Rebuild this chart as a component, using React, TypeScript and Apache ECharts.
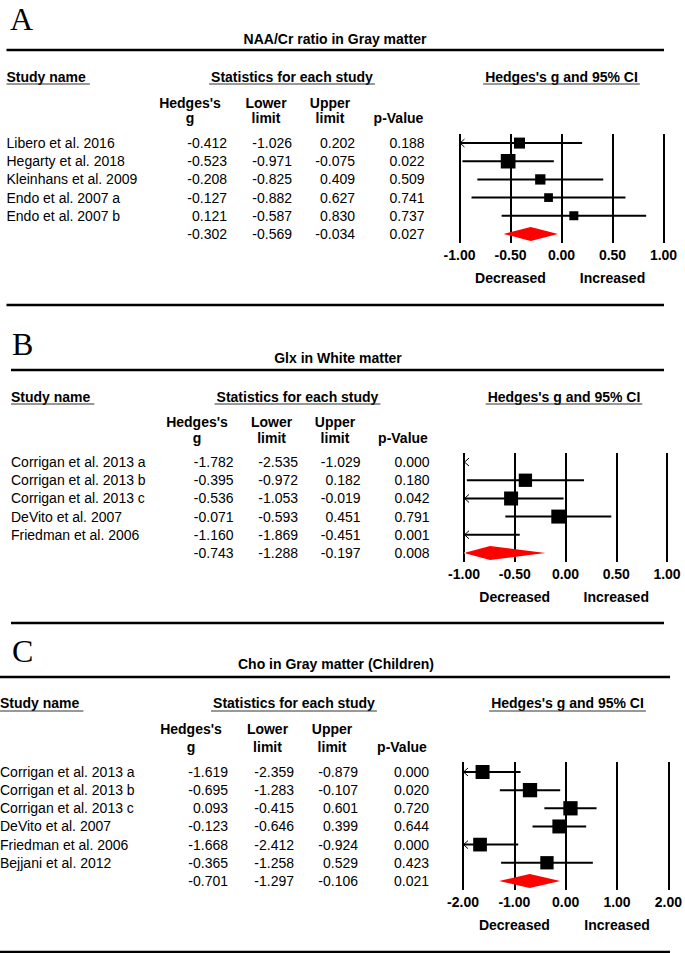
import React, { useEffect, useRef } from "react";
import * as echarts from "echarts";

// ---------- Panel A ----------
const studiesA = ["Libero et al. 2016", "Hegarty et al. 2018", "Kleinhans et al. 2009", "Endo et al. 2007 a", "Endo et al. 2007 b"];
const hedgesA = [-0.412, -0.523, -0.208, -0.127, 0.121];
const lowerA = [-1.026, -0.971, -0.825, -0.882, -0.587];
const upperA = [0.202, -0.075, 0.409, 0.627, 0.83];
const pValueA = [0.188, 0.022, 0.509, 0.741, 0.737];
const weightA = [20.2, 36.0, 17.7, 12.7, 13.5];
const summaryA = [-0.302, -0.569, -0.034, 0.027];
const ticksA = [-1, -0.5, 0, 0.5, 1];

// ---------- Panel B ----------
const studiesB = ["Corrigan et al. 2013 a", "Corrigan et al. 2013 b", "Corrigan et al. 2013 c", "DeVito et al. 2007", "Friedman et al. 2006"];
const hedgesB = [-1.782, -0.395, -0.536, -0.071, -1.16];
const lowerB = [-2.535, -0.972, -1.053, -0.593, -1.869];
const upperB = [-1.029, 0.182, -0.019, 0.451, -0.451];
const pValueB = [0.0, 0.18, 0.042, 0.791, 0.001];
const weightB = [18.0, 29.5, 32.6, 32.6, 20.0];
const summaryB = [-0.743, -1.288, -0.197, 0.008];
const ticksB = [-1, -0.5, 0, 0.5, 1];

// ---------- Panel C ----------
const studiesC = ["Corrigan et al. 2013 a", "Corrigan et al. 2013 b", "Corrigan et al. 2013 c", "DeVito et al. 2007", "Friedman et al. 2006", "Bejjani et al. 2012"];
const hedgesC = [-1.619, -0.695, 0.093, -0.123, -1.668, -0.365];
const lowerC = [-2.359, -1.283, -0.415, -0.646, -2.412, -1.258];
const upperC = [-0.879, -0.107, 0.601, 0.399, -0.924, 0.529];
const pValueC = [0.0, 0.02, 0.72, 0.644, 0.0, 0.423];
const weightC = [32.6, 34.0, 34.0, 32.6, 31.3, 29.5];
const summaryC = [-0.701, -1.297, -0.106, 0.021];
const ticksC = [-2, -1, 0, 1, 2];

const panelLetters = ["A", "B", "C"];
const panelTitles = ["NAA/Cr ratio in Gray matter", "Glx in White matter", "Cho in Gray matter (Children)"];
const sectionHeaders = ["Study name", "Statistics for each study", "Hedges's g and 95% CI"];
const directionLabels = ["Decreased", "Increased"];

const panelsData = [
  { studies: studiesA, g: hedgesA, lo: lowerA, hi: upperA, p: pValueA, w: weightA, sum: summaryA, ticks: ticksA },
  { studies: studiesB, g: hedgesB, lo: lowerB, hi: upperB, p: pValueB, w: weightB, sum: summaryB, ticks: ticksB },
  { studies: studiesC, g: hedgesC, lo: lowerC, hi: upperC, p: pValueC, w: weightC, sum: summaryC, ticks: ticksC },
];

// ---------- layout (positions only) ----------
const layouts = [
  { letterX: 10, letterY: 19, titleX: 335, titleY: 39, topLine: [6.5, 664, 50], headY: 77, ulY: 84, col1Y: 103, col2Y: 118,
    nameX: 6.5, statsC: 292, ciC: 561.5, colC: [190, 266, 330, 398.5], colR: [227, 292, 355, 424.5],
    grid: { left: 459.5, width: 204, top: 134, height: 109 }, yMin: -0.5, yMax: 5.5, bottomLine: [6.5, 664, 305] },
  { letterX: 12, letterY: 344, titleX: 338, titleY: 358, topLine: [11, 664, 370], headY: 397, ulY: 404, col1Y: 422, col2Y: 438,
    nameX: 11, statsC: 297.5, ciC: 564, colC: [197, 271.6, 335, 403], colR: [233.5, 298, 360.5, 429.5],
    grid: { left: 464, width: 203, top: 453, height: 109 }, yMin: -0.5, yMax: 5.5, bottomLine: [11, 664, 623] },
  { letterX: 12, letterY: 651, titleX: 336, titleY: 664, topLine: [0, 670, 677], headY: 703, ulY: 711, col1Y: 729, col2Y: 747,
    nameX: 0, statsC: 294, ciC: 567.5, colC: [191, 267.5, 332, 402], colR: [228, 294, 358, 429],
    grid: { left: 463, width: 208, top: 762, height: 128 }, yMin: -0.55, yMax: 6.5, bottomLine: [0, 670, 952] },
];

const SANS = "'Liberation Sans', Arial, Helvetica, sans-serif";
const SERIF = "'Liberation Serif', 'Times New Roman', serif";
const FONT = `14px ${SANS}`;
const BOLD = `bold 14px ${SANS}`;

function measure(text: string, font: string): number {
  const c = document.createElement("canvas");
  const ctx = c.getContext("2d");
  if (!ctx) return text.length * 7;
  ctx.font = font;
  return ctx.measureText(text).width;
}

function txt(text: string, x: number, y: number, font: string, align = "left", vAlign = "middle") {
  return {
    type: "text",
    silent: true,
    style: { text, x, y, font, fill: "#000", textAlign: align, textVerticalAlign: vAlign },
  };
}

function hline(x1: number, x2: number, y: number, width: number, color = "#000") {
  return {
    type: "line",
    silent: true,
    shape: { x1, y1: y, x2, y2: y },
    style: { stroke: color, lineWidth: width },
  };
}

function buildOption() {
  const graphics: any[] = [];
  const grids: any[] = [];
  const xAxes: any[] = [];
  const yAxes: any[] = [];
  const series: any[] = [];

  panelsData.forEach((pd, k) => {
    const L = layouts[k];
    const axMin = pd.ticks[0];
    const axMax = pd.ticks[pd.ticks.length - 1];
    const interval = pd.ticks[1] - pd.ticks[0];

    // static texts
    graphics.push(txt(panelLetters[k], L.letterX, L.letterY, `32px ${SERIF}`, "left", "middle"));
    graphics.push(txt(panelTitles[k], L.titleX, L.titleY, BOLD, "center"));
    graphics.push(hline(L.topLine[0], L.topLine[1], L.topLine[2], 2.5));
    graphics.push(hline(L.bottomLine[0], L.bottomLine[1], L.bottomLine[2], 2.5));

    // section headers with underlines
    const wName = measure(sectionHeaders[0], BOLD);
    graphics.push(txt(sectionHeaders[0], L.nameX, L.headY, BOLD, "left"));
    graphics.push(hline(L.nameX, L.nameX + wName + 4, L.ulY, 1, "#333"));
    const wStats = measure(sectionHeaders[1], BOLD);
    graphics.push(txt(sectionHeaders[1], L.statsC, L.headY, BOLD, "center"));
    graphics.push(hline(L.statsC - wStats / 2 - 2, L.statsC + wStats / 2 + 2, L.ulY, 1, "#333"));
    const wCi = measure(sectionHeaders[2], BOLD);
    graphics.push(txt(sectionHeaders[2], L.ciC, L.headY, BOLD, "center"));
    graphics.push(hline(L.ciC - wCi / 2 - 2, L.ciC + wCi / 2 + 2, L.ulY, 1, "#333"));

    // column headers
    graphics.push(txt("Hedges's", L.colC[0], L.col1Y, BOLD, "center"));
    graphics.push(txt("g", L.colC[0], L.col2Y, BOLD, "center"));
    graphics.push(txt("Lower", L.colC[1], L.col1Y, BOLD, "center"));
    graphics.push(txt("limit", L.colC[1], L.col2Y, BOLD, "center"));
    graphics.push(txt("Upper", L.colC[2], L.col1Y, BOLD, "center"));
    graphics.push(txt("limit", L.colC[2], L.col2Y, BOLD, "center"));
    graphics.push(txt("p-Value", L.colC[3], L.col2Y, BOLD, "center"));

    grids.push({ left: L.grid.left, width: L.grid.width, top: L.grid.top, height: L.grid.height, containLabel: false });
    xAxes.push({
      type: "value",
      gridIndex: k,
      min: axMin,
      max: axMax,
      interval,
      axisLine: { show: false },
      axisTick: { show: false },
      splitLine: { show: true, lineStyle: { color: "#000", width: 2 } },
      axisLabel: {
        color: "#000",
        fontWeight: "bold",
        fontSize: 14,
        fontFamily: SANS,
        margin: 5,
        formatter: (v: number) => v.toFixed(2),
      },
    });
    yAxes.push({ type: "value", gridIndex: k, min: L.yMin, max: L.yMax, inverse: true, show: false });

    const n = pd.studies.length;

    // forest marks
    const forestData: number[][] = [];
    for (let i = 0; i < n; i++) forestData.push([pd.g[i], i, pd.lo[i], pd.hi[i], pd.w[i], 0]);
    forestData.push([pd.sum[0], n, pd.sum[1], pd.sum[2], 0, 1]);

    series.push({
      type: "custom",
      xAxisIndex: k,
      yAxisIndex: k,
      clip: false,
      silent: true,
      encode: { x: 0, y: 1 },
      data: forestData,
      renderItem: (params: any, api: any) => {
        const g = api.value(0);
        const row = api.value(1);
        const lo = api.value(2);
        const hi = api.value(3);
        const w = api.value(4);
        const isSum = api.value(5);
        const X = (v: number) => api.coord([v, row])[0];
        const y = api.coord([0, row])[1];
        const xMin = X(axMin);
        const xMax = X(axMax);
        const children: any[] = [];
        if (isSum) {
          const xl = Math.max(X(lo), xMin);
          const xh = Math.min(X(hi), xMax);
          const xm = X(g);
          children.push({
            type: "polygon",
            shape: { points: [[xl, y], [xm, y - 7], [xh, y], [xm, y + 7]] },
            style: { fill: "#ff0000" },
          });
        } else {
          if (hi > axMin) {
            children.push({
              type: "line",
              shape: { x1: Math.max(X(lo), xMin), y1: y, x2: Math.min(X(hi), xMax), y2: y },
              style: { stroke: "#000", lineWidth: 2 },
            });
          }
          if (g >= axMin && g <= axMax) {
            const s = 2.45 * Math.sqrt(w);
            children.push({
              type: "rect",
              shape: { x: X(g) - s / 2, y: y - s / 2, width: s, height: s },
              style: { fill: "#000" },
            });
          }
        }
        if (lo < axMin) {
          children.push({
            type: "polyline",
            shape: { points: [[xMin + 5, y - 4], [xMin + 0.5, y], [xMin + 5, y + 4]] },
            style: { stroke: isSum ? "#ffffff" : "#000", lineWidth: 1, fill: "none" },
          });
        }
        return { type: "group", children };
      },
    });

    // statistics table
    const tableData: number[][] = [];
    for (let i = 0; i <= n; i++) tableData.push([0, i]);
    series.push({
      type: "custom",
      xAxisIndex: k,
      yAxisIndex: k,
      clip: false,
      silent: true,
      encode: { x: 0, y: 1 },
      data: tableData,
      renderItem: (params: any, api: any) => {
        const i = params.dataIndex;
        const y = api.coord([0, api.value(1)])[1];
        const isSum = i === n;
        const vals = isSum
          ? [pd.sum[0], pd.sum[1], pd.sum[2], pd.sum[3]]
          : [pd.g[i], pd.lo[i], pd.hi[i], pd.p[i]];
        const children: any[] = [];
        if (!isSum) children.push(txt(pd.studies[i], L.nameX, y, FONT, "left"));
        vals.forEach((v, c) => children.push(txt(v.toFixed(3), L.colR[c], y, FONT, "right")));
        return { type: "group", children };
      },
    });

    // direction captions under the axis
    const capData = [[pd.ticks[1], 0], [pd.ticks[3], 1]];
    series.push({
      type: "custom",
      xAxisIndex: k,
      yAxisIndex: k,
      clip: false,
      silent: true,
      encode: { x: 0, y: 1 },
      data: capData,
      renderItem: (params: any, api: any) => {
        const x = api.coord([api.value(0), L.yMax])[0];
        const y = api.coord([api.value(0), L.yMax])[1] + 35;
        return txt(directionLabels[params.dataIndex], x, y, BOLD, "center");
      },
    });
  });

  return {
    animation: false,
    backgroundColor: "#ffffff",
    grid: grids,
    xAxis: xAxes,
    yAxis: yAxes,
    series,
    graphic: { elements: graphics },
  };
}

export default function App() {
  const ref = useRef<HTMLDivElement>(null);
  useEffect(() => {
    document.body.style.margin = "0";
    if (!ref.current) return;
    const chart = echarts.init(ref.current, undefined, { renderer: "svg" });
    chart.setOption(buildOption() as any);
    return () => chart.dispose();
  }, []);
  return <div ref={ref} style={{ width: 685, height: 953, background: "#fff" }} />;
}
